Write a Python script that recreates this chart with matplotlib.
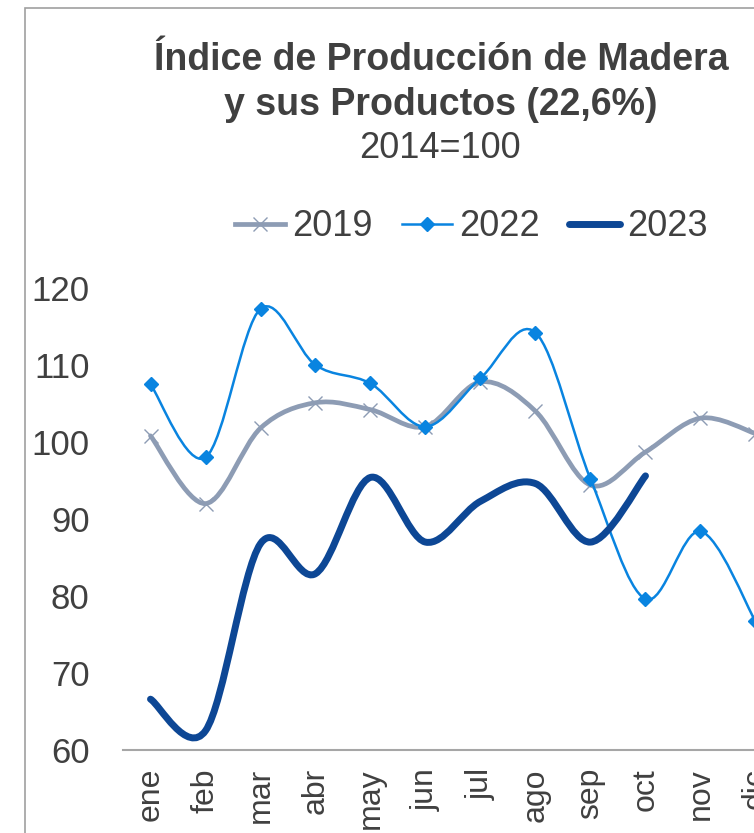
import matplotlib
matplotlib.use("Agg")
import matplotlib.pyplot as plt
from matplotlib.path import Path
from matplotlib.patches import PathPatch, Rectangle
from matplotlib.lines import Line2D
import numpy as np

months = ["ene", "feb", "mar", "abr", "may", "jun", "jul", "ago", "sep", "oct", "nov", "dic"]
v2019 = [100.8, 92.0, 101.8, 105.1, 104.2, 102.0, 107.8, 104.0, 94.4, 98.7, 103.1, 101.1]
v2022 = [107.5, 98.0, 117.3, 110.0, 107.6, 102.0, 108.3, 114.2, 95.2, 79.6, 88.4, 76.7]
v2023 = [66.6, 62.5, 86.8, 82.9, 95.4, 87.0, 92.3, 94.6, 87.0, 95.6]
yticks = [60, 70, 80, 90, 100, 110, 120]

c2019 = "#8D9CB4"
c2022 = "#0984E0"
c2023 = "#0D4795"
txt = "#404040"

plt.rcParams["font.family"] = ["Liberation Sans", "DejaVu Sans"]

W, H = 754, 833
fig = plt.figure(figsize=(W / 100, H / 100), dpi=100)

# chart border
fig.patches.append(Rectangle((25 / W, -0.1), 2.0, 1 - 8 / H + 0.1, transform=fig.transFigure,
                             fill=False, edgecolor="#A0A0A0", linewidth=1.2))

ax = fig.add_axes([123 / W, (H - 750) / H, (783 - 123) / W, (750 - 288) / H])
ax.set_xlim(-0.5, 11.5)
ax.set_ylim(60, 120)
for s in ["top", "right", "left"]:
    ax.spines[s].set_visible(False)
ax.spines["bottom"].set_color("#A6A6A6")
ax.spines["bottom"].set_linewidth(1.5)
ax.set_xticks(range(len(months)))
ax.set_xticklabels(months, rotation=90, fontsize=23, color=txt)
ax.set_yticks(yticks)
ax.set_yticklabels([str(t) for t in yticks], fontsize=25, color=txt)
ax.tick_params(axis="both", length=0)
ax.tick_params(axis="y", pad=24)
ax.tick_params(axis="x", pad=13)


def smooth_path(xs, ys):
    pts = np.column_stack([xs, ys]).astype(float)
    n = len(pts)
    verts = [pts[0]]
    codes = [Path.MOVETO]
    for i in range(n - 1):
        p0 = pts[i - 1] if i > 0 else pts[i]
        p1 = pts[i]
        p2 = pts[i + 1]
        p3 = pts[i + 2] if i + 2 < n else pts[i + 1]
        c1 = p1 + (p2 - p0) / 6.0
        c2 = p2 - (p3 - p1) / 6.0
        verts += [c1, c2, p2]
        codes += [Path.CURVE4] * 3
    return Path(verts, codes)


def draw(vals, color, lw, marker, ms, mew, z):
    xs = np.arange(len(vals))
    ax.add_patch(PathPatch(smooth_path(xs, vals), fill=False, edgecolor=color,
                           linewidth=lw, capstyle="round", joinstyle="round", zorder=z))
    if marker:
        ax.plot(xs, vals, linestyle="none", marker=marker, markersize=ms, color=color,
                markeredgewidth=mew, zorder=z + 0.1, clip_on=False)


draw(v2019, c2019, 3.4, "x", 10, 1.0, 2)
draw(v2022, c2022, 1.8, "D", 7, 1.0, 3)
draw(v2023, c2023, 5.0, None, 0, 0, 4)

fig.text(441 / W, 1 - 60 / H, "Índice de Producción de Madera", ha="center", va="center",
         fontsize=27, fontweight="bold", color=txt)
fig.text(441 / W, 1 - 105 / H, "y sus Productos (22,6%)", ha="center", va="center",
         fontsize=27, fontweight="bold", color=txt)
fig.text(440 / W, 1 - 148 / H, "2014=100", ha="center", va="center",
         fontsize=26, color=txt)

handles = [
    Line2D([], [], color=c2019, lw=3.4, marker="x", markersize=10, markeredgewidth=1.0),
    Line2D([], [], color=c2022, lw=1.8, marker="D", markersize=7),
    Line2D([], [], color=c2023, lw=5.0, solid_capstyle="round"),
]
leg = fig.legend(handles, ["2019", "2022", "2023"], loc="center", ncol=3,
                 bbox_to_anchor=(471 / W, 1 - 227 / H), frameon=False, fontsize=26,
                 handlelength=1.4, handletextpad=0.2, columnspacing=0.8, labelcolor=txt)

fig.savefig("out.png", dpi=100)
